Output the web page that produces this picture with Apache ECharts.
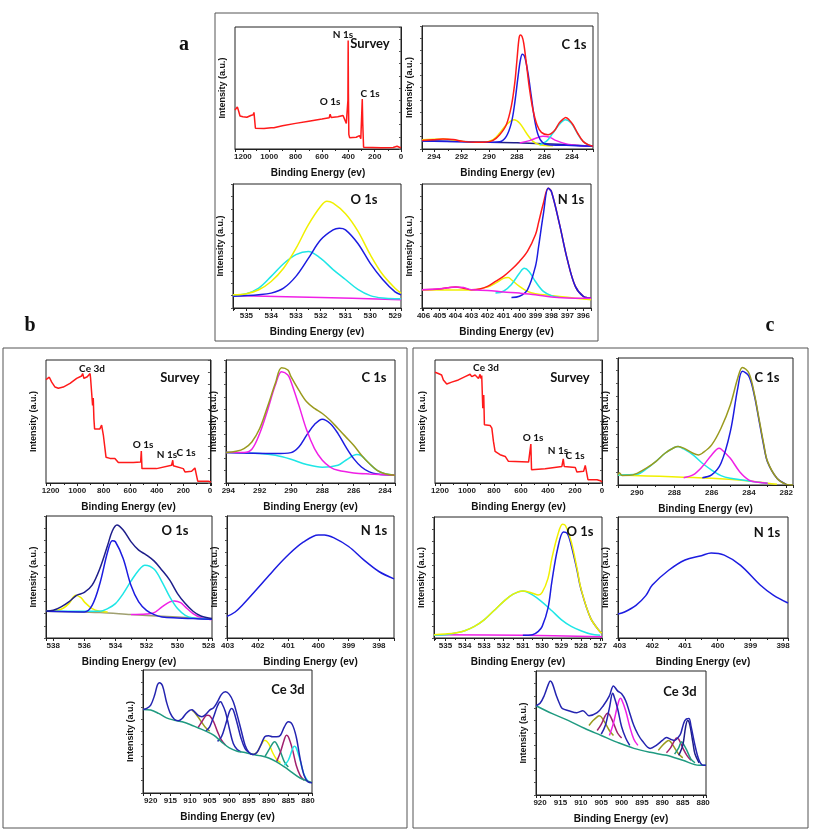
<!DOCTYPE html>
<html><head><meta charset="utf-8">
<script src="https://cdn.jsdelivr.net/npm/echarts@6/dist/echarts.min.js"></script>
<style>html,body{margin:0;padding:0;background:#fff}#c{width:813px;height:835px}</style>
</head><body><div id="c"></div>
<script>
// ---------- DATA: [binding energy (eV), intensity (a.u., 0-100)] ----------
// Panel a
const aSurvey = [[1260,32],[1250,33],[1242,34.5],[1232,31],[1222,27],[1200,26.5],[1170,26],[1140,27.5],[1122,28],[1116,30],[1110,29],[1105,17],[1095,16.5],[1040,16.8],[985,17.5],[975,18.5],[965,17.5],[900,19],[800,21],[700,22.8],[600,24.6],[545,25.6],[538,28.5],[530,25.8],[480,26.5],[440,27.5],[425,27],[415,21],[407,20],[403,40],[401,89],[399,45],[396,12],[390,9.3],[340,9.6],[325,10.5],[315,11],[305,8.5],[298,7.6],[294,41],[290,20],[284,1.5],[270,0.8],[150,1],[60,1.2],[30,2.2],[22,2.4],[12,1.4],[0,1.2]];
const aC1sRed = [[294.87,7],[294.07,7.6],[293.35,8.1],[292.62,7.8],[291.9,6.2],[290.93,5.4],[290.2,5.7],[289.72,7],[289.24,11.6],[288.76,19.7],[288.4,34.6],[288.15,53.5],[287.99,72.4],[287.84,90],[287.74,92.7],[287.62,91.4],[287.5,86],[287.31,69.7],[287.07,48],[286.83,31.9],[286.54,19.7],[286.22,13.5],[285.74,11.6],[285.26,15.1],[284.94,21],[284.65,24.3],[284.46,25.7],[284.22,23.8],[283.93,19.7],[283.57,12.4],[283.2,6.2],[282.84,3.5],[282.48,2.2]];
const aC1sBlue = [[294.87,6.5],[292,5.8],[290.2,5.4],[289.24,5.9],[288.76,10.3],[288.4,21],[288.15,37.3],[287.91,59],[287.74,72.4],[287.6,77],[287.43,75],[287.19,61.6],[286.95,42.7],[286.71,23.8],[286.46,11.6],[286.15,5.4],[285.74,3.5],[284.41,3],[282.48,2.2]];
const aC1sYellow = [[294.87,7.6],[293.35,8.1],[291.9,6.2],[290.45,5.4],[289.72,7.6],[289.24,13],[288.76,19.7],[288.2,23.8],[287.79,21],[287.31,13],[286.83,6.2],[286.34,3.5],[285.37,2.7]];
const aC1sMagenta = [[287.79,4.9],[287.07,6.8],[286.58,8.9],[286.1,10.3],[285.62,9.5],[285.14,6.8],[284.41,4.1],[283.44,2.7],[282.48,2.2]];
const aC1sCyan = [[286.34,3.5],[285.86,6.2],[285.38,13],[284.94,19.7],[284.48,23.8],[284.05,21],[283.69,14.3],[283.32,7.6],[282.96,4.1],[282.53,2.2]];
const aC1sBase = [[294.87,6.8],[292,6],[290,5.4],[288,5.1],[286,4.3],[284,3.2],[282.48,2.2]];
const aO1sYellow = [[535.54,10.7],[535,11.5],[534.5,14.7],[534,21.4],[533.5,32],[533,48],[532.5,67],[532,82],[531.75,86],[531.5,84.5],[531,76],[530.5,62],[530,43],[529.5,27],[529,16],[528.76,12]];
const aO1sBlue = [[535.54,9.4],[534.5,10.7],[534,12],[533.5,16],[533,25.5],[532.5,40],[532,55],[531.5,63],[531.25,64.3],[531,63],[530.5,52],[530,36],[529.5,23],[529,13],[528.76,10.7]];
const aO1sCyan = [[535.54,10],[535,11.5],[534.5,16],[534,25.5],[533.5,35.7],[533,43],[532.5,45.6],[532,40],[531.5,31],[531,23],[530.5,15],[530,10],[529.5,8],[529,7.5],[528.76,7.5]];
const aO1sMagenta = [[535.54,10],[532,8.5],[528.76,6.7]];
const aN1sRed = [[406.1,14.7],[405,15.3],[404.5,16.3],[404,17],[403.5,16],[403,14.7],[402.5,15.3],[402,17.4],[401.5,21.4],[401,25.5],[400.5,31],[400,37.5],[399.5,45.6],[399,59],[398.8,69],[398.5,84.5],[398.2,96.5],[398,94],[397.5,68],[397,39],[396.5,17.4],[396,9.4],[395.52,8]];
const aN1sBlue = [[400.5,8.5],[400,9.5],[399.5,14.7],[399,33.5],[398.8,49.6],[398.5,76],[398.2,96.5],[398,94],[397.5,68],[397,39],[396.5,17.4],[396,9.4],[395.52,8]];
const aN1sCyan = [[401.5,12],[401,13.5],[400.5,19],[400,28],[399.7,32],[399.4,29.5],[399,21.4],[398.5,13.4],[398,10],[397.5,8.5]];
const aN1sYellow = [[406.1,14.7],[404,14.5],[403,14.5],[402,16.9],[401.5,20],[401,23.9],[400.7,24.5],[400.5,22.8],[400,17.4],[399.5,13.4],[399,11.5],[398,10],[397,8.6],[396,7.2],[395.52,6.7]];
const aN1sMagenta = [[406.1,14.7],[405,15.5],[404,17],[403.5,16.5],[403,14.7],[402,14.2],[401,13],[400,12],[399,10.7],[398,8.8],[397,8],[396,7.8],[395.52,7.8]];
// Panel b
const bSurvey = [[1235,84],[1230,85],[1210,86],[1192,82],[1167,78],[1142,77],[1105,78],[1054,81],[1004,85],[967,87],[959,89],[949,85],[924,86.4],[912,88],[909,85],[903,89],[899,85],[891,86],[884,63],[879,69],[874,52],[869,44],[829,44],[816,47],[803,39],[783,21],[753,20],[716,20],[690,16.6],[577,16.6],[522,17],[517,26],[512,11.7],[502,10.3],[402,11.7],[289,14.4],[280,18.5],[276,14],[269,13.9],[201,11.7],[188,9],[138,9.5],[126,11],[113,12.2],[100,11.5],[92,1.5],[13,1.5],[5,2.2],[0,1],[-8,0.8]];
const bC1sOlive = [[294.15,24.7],[293.5,25.8],[293,28],[292.5,33.4],[292,44.3],[291.5,62],[291,81],[290.6,93.8],[290.2,91.8],[290,86.4],[289.5,75.5],[289,66],[288.5,60.6],[288,56.5],[287.5,51],[287,44.3],[286.5,37.5],[286,30.7],[285.5,22.6],[285,15.8],[284.5,10.3],[284,7.6],[283.36,6.3]];
const bC1sMagenta = [[294.15,24.7],[293,24.7],[292.5,27.4],[292,40.2],[291.5,59],[291,79.6],[290.6,90.5],[290.2,87.8],[290,82.3],[289.5,63.3],[289,43],[288.5,28],[288,18.5],[287.5,13],[287,10.3],[286,8.2],[285,7.3],[283.36,6.3]];
const bC1sBlue = [[294.15,24.7],[291,23.9],[290,24.7],[289.5,29.3],[289,38.9],[288.5,47.6],[288,51.9],[287.5,48.4],[287,40.2],[286.5,29.3],[286,19.8],[285.5,13],[285,9],[284.5,7.3],[283.36,6.3]];
const bC1sCyan = [[294.15,24.7],[292,23.9],[291,22.5],[290,19.3],[289,15],[288,12.8],[287,14.4],[286.5,18.5],[285.8,23.1],[285.5,22],[285,15.8],[284.5,10.3],[284,7.6],[283.36,6.3]];
const bO1sNavy = [[538.47,21.9],[538,22.7],[537.5,25.5],[537,29.6],[536.5,35],[536,37.3],[535.5,43.3],[535,57],[534.5,76],[534.2,87.7],[533.9,92.6],[533.5,88.5],[533,79],[532.5,72],[532,68],[531.5,63],[531,55.6],[530.5,47.4],[530,36.4],[529.5,28.2],[529,21.9],[528.5,18],[528,16.4],[527.78,15.9]];
const bO1sBlue = [[538.47,21.9],[536,21.4],[535.5,26.8],[535,44.7],[534.5,70.7],[534.2,79.7],[534,78.9],[533.5,65.2],[533,43.3],[532.5,29.6],[532,22.7],[531.5,19.2],[531,17.3],[530,16.4],[529,15.9],[527.78,15.3]];
const bO1sYellow = [[538.47,21.9],[537.5,23.6],[537,28.2],[536.55,35],[536.2,32.9],[536,29.6],[535.5,24.1],[535,21.9],[534.5,21.4]];
const bO1sCyan = [[538.47,21.9],[535,21.9],[534.5,24.1],[534,28.2],[533.5,36.4],[533,46.6],[532.5,55.6],[532.1,59.7],[531.5,56.4],[531,46],[530.5,33.7],[530,24.1],[529.5,18.6],[529,16.4],[528.5,15.9],[527.78,15.3]];
const bO1sMagenta = [[533,19.2],[532,19.6],[531.5,20.8],[531,25.5],[530.5,29.6],[530.2,30.4],[529.8,29],[529.5,25.5],[529,20],[528.5,16.7],[528,15.3],[527.78,15.1]];
const bO1sBase = [[538.47,21.9],[535,20.8],[533,19.2],[531,17.8],[529,16.4],[527.78,15.3]];
const bN1sBlue = [[403.02,17.7],[402.75,21.3],[402.5,27.2],[402,40.9],[401.5,55],[401,68],[400.5,78.5],[400,84.5],[399.8,84.5],[399.5,82.3],[399,75],[398.5,64],[398,54.5],[397.5,48.5]];
const bCeEnv = [[921.96,67.9],[921,68.8],[920,71.5],[919,79.6],[918.3,87.8],[917.8,89.7],[917,87.2],[916,74.2],[915,64.7],[914,60],[913,58.7],[912,60.6],[911,64.7],[910,67.4],[909.5,67.7],[909,66.6],[908,63.3],[907,62],[906,63.9],[905,67.4],[904,69.3],[903,74.2],[902,80.2],[901,82.3],[900,80.2],[899,74.2],[898,63.3],[897,51],[896,38.9],[895,32.9],[894,31.3],[893,32.9],[892,38.9],[891,45.7],[890,46.5],[889,45.7],[888,45.7],[887,47],[886,53.8],[885,57.9],[884,55.7],[883,45.7],[882,28],[881,14.4],[880,9],[878.98,8.4]];
const bCeBase = [[921.96,67.9],[920,67.4],[918,64.7],[916,61.1],[914,59.2],[912,57.9],[910,55.7],[908,53],[906,50.3],[904,47],[902,41.6],[900,36.7],[898,34],[896,32.9],[894,31.3],[892,30.2],[890,28.5],[888,25.3],[886,21.2],[884,16.6],[882,12.2],[880,9.5],[878.98,8.4]];
const bCeOlive = [[909.5,67.4],[909,66],[908,62],[907,57.3],[906,53],[905,50.3]];
const bCeMaroon1 = [[908,53],[907,57.9],[906,62.8],[905.5,63.3],[905,62.8],[904,57.9],[903,49.7],[902,42.9],[901,39]];
const bCeBlue1 = [[906,50.3],[905,53.8],[904,62],[903,70.9],[902.3,74.2],[902,73.6],[901,66],[900,52.4],[899,40.2],[898,35.3],[897,33.4]];
const bCeBlue2 = [[903,42],[902,45.7],[901,55.2],[900,66],[899.5,68.8],[899,67.4],[898,56.5],[897,44.3],[896,36.1],[895,32.9],[894,31.3]];
const bCeYellow = [[894,31.3],[893,32.9],[892,38.9],[891,42.9],[890,40.2],[889,32.9],[888,27.4],[887,24.7]];
const bCeTeal = [[891,29.3],[890,34.8],[889,40.2],[888.5,41.6],[888,40.2],[887,33.4],[886,25.3],[885,21.2]];
const bCeMaroon2 = [[888,25.3],[887,33.4],[886,43.8],[885.5,47],[885,45.7],[884,36.1],[883,22.6],[882,14.4],[881,10.3]];
const bCeCyan = [[886,22.6],[885,26.6],[884,35.3],[883.5,38],[883,36.7],[882,26.6],[881,15],[880,9.5]];
// Panel c
const cSurvey = [[1237,90],[1217,89.2],[1188,87.8],[1175,83.8],[1150,80.5],[1113,82],[1064,83.8],[1014,86.5],[977,88.4],[965,86.5],[940,87.8],[915,85],[903,88.4],[898,85],[891,87.3],[883,60.8],[876,71.6],[871,47.3],[829,46.8],[816,44.6],[804,33.8],[792,25.7],[755,23],[717,21.6],[693,17.6],[544,17],[532,17.6],[527,31.6],[522,10.8],[421,11.6],[297,13.5],[287,19.7],[280,13.5],[198,12.7],[186,8.9],[136,9.5],[124,14.3],[111,13.5],[104,2.7],[37,2.7],[12,1.9],[0,0.8]];
const cC1sOlive = [[291.02,8],[290.95,9.7],[290.8,7.5],[290.4,7.6],[290,9.2],[289.5,13.2],[289,18.4],[288.5,25],[288,29.5],[287.8,30.3],[287.5,29],[287,25],[286.7,23.7],[286.5,25],[286,31.6],[285.5,44.7],[285,63],[284.6,84.2],[284.35,92.6],[284,88],[283.7,71],[283.5,55.3],[283.2,31.6],[283,18.4],[282.5,5.3],[282,0.5],[281.64,0]];
const cC1sCyan = [[291.02,7.9],[290,8.4],[289.5,12.6],[289,18.4],[288.5,25],[288,29.5],[287.8,30.3],[287.5,28.4],[287,23.7],[286.5,17.1],[286,11.8],[285.5,7.4],[285,5.3],[284,3.2],[283.5,2.1],[283,1.3]];
const cC1sMagenta = [[287.5,5.8],[287,7.9],[286.5,14.5],[286,23.7],[285.6,29],[285.5,28.4],[285,21],[284.5,10.5],[284,3.9],[283.5,2.1],[283,1.3]];
const cC1sBlue = [[286.5,5.8],[286,7.9],[285.5,17.1],[285,42],[284.6,76.3],[284.35,89.5],[284,85.5],[283.7,69.7],[283.5,54],[283.2,30.3],[283,17.9],[282.5,5.3],[282,0.5]];
const cC1sYellow = [[291.02,7.9],[286,5.3],[284,3.2],[283,1.3],[282.5,0.5]];
const cO1sYellow = [[535.59,2.7],[535,3.3],[534.5,4.1],[534,6],[533.5,9.6],[533,15],[532.5,22.5],[532,30.1],[531.5,36.2],[531,38.9],[530.5,37],[530.2,35.6],[530,37.8],[529.7,49.3],[529.5,65.8],[529.2,84.9],[528.95,94],[528.8,93],[528.5,79.5],[528.2,57.5],[528,41],[527.5,16.4],[527,4.9],[526.91,4.1]];
const cO1sBlue = [[531,2.2],[530.5,2.7],[530.2,5.5],[530,9.6],[529.7,24.7],[529.5,46.6],[529.2,74],[528.9,87.7],[528.7,86.3],[528.5,76.7],[528.2,56],[528,40.5],[527.5,16.4],[527,4.9],[526.91,4.1]];
const cO1sCyan = [[535.59,2.2],[535,2.7],[534.5,4.1],[534,6],[533.5,9.6],[533,15],[532.5,22.5],[532,30.1],[531.5,36.2],[531,38.9],[530.5,35.6],[530,29.6],[529.5,22.5],[529,15],[528.5,9.6],[528,6],[527.5,3.3],[527,2.2]];
const cO1sMagenta = [[535.59,2.7],[531,2.2],[526.91,1.1]];
const cN1sBlue = [[403.05,19.8],[402.85,21.5],[402.5,27],[402.2,35],[402,43.8],[401.5,56],[401,64.5],[400.5,68],[400.2,70.2],[399.8,68.5],[399.3,60],[398.7,43.8],[398.3,35.5],[397.85,28.9]];
const cCeEnv = [[921,72],[920,74],[919,80],[918,89],[917.5,92],[917,90],[916,80],[915,72],[914.5,69.6],[913,68],[911,66.4],[909.5,68],[908,64],[906,66.4],[904.5,72],[903,80],[902,88],[901,84],[900,81.6],[899,76],[898,66],[897,56],[896,49],[895,44],[893,37.6],[891.5,40],[890,44],[889,46.4],[888,45],[887,44],[886,47],[885.5,49.6],[884.5,60],[883.5,61.6],[883,56],[882,40],[881,28],[880,24],[879.3,24]];
const cCeBase = [[921,72],[917,65.6],[913,60],[909,53.6],[905,48],[901,42.4],[897,37.6],[893,34.4],[889,32],[885,28],[881,24],[879.3,24]];
const cCeOlive1 = [[908,56],[907,60],[906,63],[905.5,64],[905,63],[904,58],[903,52],[902,48]];
const cCeMaroon1 = [[906,52],[905,57],[904,64],[903.5,66],[903,65],[902,58],[901,50],[900,46]];
const cCeMagenta = [[903,48],[902,58],[901,72],[900.3,78],[900,77],[899,68],[898,55],[897,45],[896,40]];
const cCeBlue1 = [[905,49],[904,56],[903,70],[902.2,82],[902,81],[901,70],[900,55],[899,46],[898,40]];
const cCeOlive2 = [[891,36],[890,40],[889,43],[888.5,44],[888,43],[887,38],[886,33],[885,30]];
const cCeMaroon2 = [[889,34],[888,38],[887,44],[886.5,46],[886,45],[885,38],[884,32],[883,28]];
const cCeTeal = [[887,33],[886,38],[885.3,43],[885,42],[884,36],[883,29],[882,26]];
const cCeNavy = [[886,32],[885,40],[884.3,55],[883.8,60],[883.3,57],[882.5,42],[882,33],[881,26]];

// tick intervals
const surveyTicks = 200, c1sTicks = 2, o1sTicks = 1, n1sTicks = 1, ceTicks = 5;

// ---------- COLOURS ----------
const RED='#ff1a1a', BLUE='#1c1ce0', NAVY='#1e1e8a', YEL='#f0f000', CYAN='#1ee6e6', MAG='#f020e6', OLIVE='#9a9a1e', TEAL='#1f9a80', MAROON='#a0206e', DBLUE='#2424b0';

const grids=[], xAxes=[], yAxes=[], series=[];
function fmt(iv){return v => (Math.abs(v/iv-Math.round(v/iv))<1e-6 ? String(Math.round(v)) : '');}
function panel(p){
  const i = grids.length;
  grids.push({left:p.l, top:p.t, width:p.w, height:p.h, show:true, borderColor:'#222', borderWidth:1, backgroundColor:'transparent'});
  xAxes.push({gridIndex:i, type:'value', inverse:true, min:p.x[0], max:p.x[1], minInterval:p.iv, maxInterval:p.iv,
    axisLine:{show:true, onZero:false, lineStyle:{color:'#222'}},
    axisTick:{show:true, length:3, lineStyle:{color:'#222'}},
    minorTick:{show:true, splitNumber:2, length:2, lineStyle:{color:'#222'}},
    splitLine:{show:false},
    axisLabel:{fontSize:8, fontWeight:'bold', color:'#222', margin:4, fontFamily:'Liberation Sans', formatter:fmt(p.iv), showMinLabel:true, showMaxLabel:true},
    name:'Binding Energy (ev)', nameLocation:'middle', nameGap:p.ng||19,
    nameTextStyle:{fontSize:10, fontWeight:'bold', color:'#111', fontFamily:'Liberation Sans'}});
  yAxes.push({gridIndex:i, type:'value', min:0, max:100, interval:10,
    axisLine:{show:true, lineStyle:{color:'#222'}},
    axisTick:{show:true, length:2, lineStyle:{color:'#555'}},
    axisLabel:{show:false}, splitLine:{show:false},
    name:'Intensity (a.u.)', nameLocation:'middle', nameGap:p.yg||8, nameRotate:90,
    nameTextStyle:{fontSize:9, fontWeight:'bold', color:'#111', fontFamily:'Liberation Sans'}});
  p.c.forEach(c => series.push({type:'line', xAxisIndex:i, yAxisIndex:i, data:c[0], showSymbol:false, symbol:'none',
    smooth:c[2]===undefined?0.35:c[2], lineStyle:{color:c[1], width:c[3]||1.5}, z: c[4]||2, silent:true, animation:false}));
}

panel({l:235,t:27,w:166,h:122,x:[0,1260],iv:surveyTicks,c:[[aSurvey,RED,false]]});
panel({l:422,t:26,w:171,h:123,x:[282.48,294.87],iv:c1sTicks,c:[[aC1sBase,NAVY],[aC1sYellow,YEL],[aC1sMagenta,MAG],[aC1sCyan,CYAN],[aC1sBlue,BLUE],[aC1sRed,RED]]});
panel({l:233,t:184,w:168,h:124,x:[528.76,535.54],iv:o1sTicks,c:[[aO1sMagenta,MAG],[aO1sCyan,CYAN],[aO1sBlue,BLUE],[aO1sYellow,YEL]]});
panel({l:422,t:184,w:169,h:124,x:[395.52,406.1],iv:n1sTicks,c:[[aN1sYellow,YEL],[aN1sCyan,CYAN],[aN1sRed,RED],[aN1sBlue,BLUE],[aN1sMagenta,MAG]]});

panel({l:46,t:360,w:165,h:123,x:[-8,1235],iv:surveyTicks,c:[[bSurvey,RED,false]]});
panel({l:226,t:360,w:169,h:123,x:[283.36,294.15],iv:c1sTicks,c:[[bC1sCyan,CYAN],[bC1sBlue,BLUE],[bC1sMagenta,MAG],[bC1sOlive,OLIVE]]});
panel({l:46,t:516,w:166,h:122,x:[527.78,538.47],iv:o1sTicks*2,c:[[bO1sBase,'#a0a070'],[bO1sYellow,YEL],[bO1sMagenta,MAG],[bO1sCyan,CYAN],[bO1sBlue,BLUE],[bO1sNavy,NAVY]]});
panel({l:227,t:516,w:167,h:122,x:[397.5,403.02],iv:n1sTicks,c:[[bN1sBlue,BLUE]]});
panel({l:143,t:670,w:169,h:123,x:[878.98,921.96],iv:ceTicks,c:[[bCeOlive,OLIVE],[bCeMaroon1,MAROON],[bCeBlue1,DBLUE],[bCeBlue2,DBLUE],[bCeYellow,YEL],[bCeTeal,TEAL],[bCeMaroon2,MAROON],[bCeCyan,CYAN],[bCeBase,TEAL],[bCeEnv,DBLUE]]});

panel({l:435,t:360,w:167,h:123,x:[0,1237],iv:surveyTicks,c:[[cSurvey,RED,false]]});
panel({l:618,t:358,w:175,h:127,x:[281.64,291.02],iv:c1sTicks,c:[[cC1sYellow,YEL],[cC1sCyan,CYAN],[cC1sMagenta,MAG],[cC1sBlue,BLUE],[cC1sOlive,OLIVE]]});
panel({l:434,t:517,w:168,h:121,x:[526.91,535.59],iv:o1sTicks,c:[[cO1sMagenta,MAG],[cO1sCyan,CYAN],[cO1sBlue,BLUE],[cO1sYellow,YEL]]});
panel({l:618,t:517,w:170,h:121,x:[397.85,403.05],iv:n1sTicks,c:[[cN1sBlue,BLUE]]});
panel({l:536,t:671,w:170,h:124,x:[879.3,921],iv:ceTicks,c:[[cCeOlive1,OLIVE],[cCeMaroon1,MAROON],[cCeMagenta,MAG],[cCeBlue1,DBLUE],[cCeOlive2,OLIVE],[cCeMaroon2,MAROON],[cCeTeal,TEAL],[cCeNavy,NAVY],[cCeBase,TEAL],[cCeEnv,DBLUE]]});

function txt(t,x,y,size,fam){return {type:'text', silent:true, z:100, style:{text:t, x:x, y:y, font:'bold '+(size||12)+'px '+(fam||'Lato'), fill:'#111', textAlign:'center', textVerticalAlign:'middle', align:'center', verticalAlign:'middle'}};}
function box(x1,y1,x2,y2){return {type:'rect', silent:true, z:0, shape:{x:x1,y:y1,width:x2-x1,height:y2-y1}, style:{fill:'none', stroke:'#555', lineWidth:1}};}

const graphics = [
  box(215,13,598,341), box(3,348,407,828), box(413,348,808,828),
  txt('a',184,45,20,'"Liberation Serif"'), txt('b',30,326,20,'"Liberation Serif"'), txt('c',770,326,20,'"Liberation Serif"'),
  // panel a
  txt('Survey',370,44,13), txt('N 1s',343,35,10), txt('O 1s',330,102,10), txt('C 1s',370,94,10),
  txt('C 1s',574,45,13), txt('O 1s',364,200,13), txt('N 1s',571,200,13),
  // panel b
  txt('Survey',180,378,13), txt('Ce 3d',92,369,10), txt('O 1s',143,445,10), txt('N 1s',167,455,10), txt('C 1s',186,453,10),
  txt('C 1s',374,378,13), txt('O 1s',175,531,13), txt('N 1s',374,531,13), txt('Ce 3d',288,690,13),
  // panel c
  txt('Survey',570,378,13), txt('Ce 3d',486,368,10), txt('O 1s',533,438,10), txt('N 1s',558,451,10), txt('C 1s',575,456,10),
  txt('C 1s',767,378,13), txt('O 1s',580,532,13), txt('N 1s',767,533,13), txt('Ce 3d',680,692,13)
];

const chart = echarts.init(document.getElementById('c'), null, {renderer:'canvas'});
chart.setOption({animation:false, backgroundColor:'#fff', grid:grids, xAxis:xAxes, yAxis:yAxes, series:series, graphic:graphics});
</script></body></html>
